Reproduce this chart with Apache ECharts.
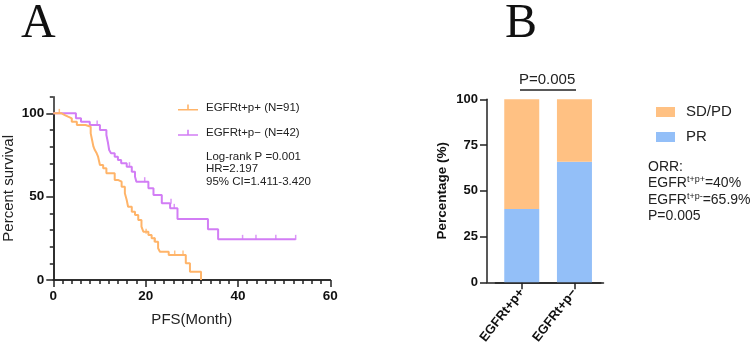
<!DOCTYPE html>
<html>
<head>
<meta charset="utf-8">
<script src="https://cdn.jsdelivr.net/npm/echarts@6/dist/echarts.min.js"></script>
<style>
  html, body { margin: 0; padding: 0; background: #fff; }
  #chart { width: 752px; height: 352px; }
</style>
</head>
<body>
<div id="chart"></div>
<script>
// Panel A: Kaplan-Meier PFS (months, % survival)
const posName = "EGFRt+p+ (N=91)";
const negName = "EGFRt+p− (N=42)";
const posMonths = [0, 1.8, 2.5, 3.2, 4.0, 5.1, 7.0, 8.1, 8.4, 8.7, 9.0, 9.4, 9.7, 10.1, 10.8, 11.5, 13.3, 14.1, 14.8, 15.5, 15.9, 16.2, 17.0, 17.7, 18.4, 19.1, 19.5, 20.6, 21.3, 22.0, 22.7, 23.1, 25.0, 28.7, 29.6, 32.0];
const posSurv = [100, 99, 98, 97, 95, 93, 92, 88, 84, 80, 78, 76, 74, 69, 67, 64, 60, 59, 56, 52, 48, 44, 41, 39, 36, 32, 29, 27, 25, 23, 19, 17, 15, 10, 5, 0];
const posCensorMonths = [1.3, 20.1, 21.9, 26.3, 28.1];
const posCensorSurv = [100, 28, 23, 15, 15];

const negMonths = [0, 4.9, 6.0, 7.9, 10.1, 11.5, 11.8, 12.1, 12.5, 13.3, 14.0, 14.7, 15.9, 17.0, 17.7, 18.0, 20.6, 21.7, 23.5, 25.3, 26.9, 33.5, 35.7, 52.5];
const negSurv = [100, 97, 95, 93, 90, 87, 83, 78, 76, 74, 72, 70, 68, 65, 62, 59, 55, 51, 46, 43, 36.6, 30.5, 24.4, 24.4];
const negCensorMonths = [9.5, 16.5, 19.8, 25.5, 26.2, 41.0, 43.9, 48.2, 52.5];
const negCensorSurv = [93, 68, 59, 46, 43, 24.4, 24.4, 24.4, 24.4];

// Panel B: response rate (%)
const groups = ["EGFRt+p+", "EGFRt+p−"];
const prValues = [40, 65.9];
const sdpdValues = [60, 34.1];

const orange = "#FFB469";
const purple = "#D27DF5";
const barOrange = "#FFC183";
const barBlue = "#93BFF8";
const axisColor = "#222";
const font = "Liberation Sans";

const zip = (a, b) => a.map((v, i) => [v, b[i]]);

const chart = echarts.init(document.getElementById("chart"), null, { renderer: "canvas" });

const axisLine = { show: true, lineStyle: { color: axisColor, width: 1.5 } };
const tickStyle = { color: axisColor, width: 1.5 };
const boldLabel = { color: "#111", fontFamily: font, fontWeight: "bold", fontSize: 13.5 };

chart.setOption({
  animation: false,
  backgroundColor: "#fff",
  textStyle: { fontFamily: font },
  grid: [
    { left: 53.3, top: 96.7, width: 277, height: 183.3 }, // A: curves, 0-110
    { left: 53.3, top: 113.3, width: 277, height: 166.7 }, // A: major y ticks, 0-100
    { left: 487, top: 99.3, width: 116.5, height: 183 }, // B: frame
    { left: 495.4, top: 99.3, width: 105.4, height: 183 }, // B: bars
  ],
  legend: [
    {
      data: [posName, negName],
      orient: "vertical",
      left: 173,
      top: 96.5,
      itemWidth: 20,
      itemHeight: 8,
      itemGap: 13.3,
      icon: "path://M0,6.4h20v1.6h-20z M9.2,2h1.6v5h-1.6z",
      textStyle: { fontFamily: font, fontSize: 11.5, color: "#222", padding: [0, 0, 0, 3] },
    },
    {
      data: ["SD/PD", "PR"],
      orient: "vertical",
      left: 651,
      top: 99.5,
      itemWidth: 19,
      itemHeight: 10,
      itemGap: 10,
      icon: "rect",
      textStyle: { fontFamily: font, fontSize: 15, color: "#222", padding: [0, 0, 0, 6] },
    },
  ],
  xAxis: [
    {
      // month axis, minor ticks every 2
      type: "value",
      gridIndex: 0,
      position: "bottom",
      min: 0,
      max: 60,
      interval: 2,
      name: "PFS(Month)",
      nameLocation: "middle",
      nameGap: 32,
      nameTextStyle: { fontFamily: font, fontSize: 15, color: "#222" },
      axisLine: axisLine,
      axisTick: { show: true, length: 4, lineStyle: tickStyle },
      axisLabel: { show: false },
      splitLine: { show: false },
    },
    {
      // month axis, major ticks and labels
      type: "value",
      gridIndex: 0,
      position: "bottom",
      min: 0,
      max: 60,
      interval: 20,
      axisLine: axisLine,
      axisTick: { show: true, length: 7, lineStyle: tickStyle },
      axisLabel: Object.assign({ margin: 9 }, boldLabel),
      splitLine: { show: false },
    },
    { type: "value", gridIndex: 1, min: 0, max: 60, show: false },
    {
      type: "value",
      gridIndex: 2,
      min: 0,
      max: 1,
      axisLine: axisLine,
      axisTick: { show: false },
      axisLabel: { show: false },
      splitLine: { show: false },
    },
    {
      type: "category",
      gridIndex: 3,
      data: groups,
      axisLine: axisLine,
      axisTick: { show: true, alignWithLabel: true, length: 7, lineStyle: tickStyle },
      axisLabel: Object.assign({}, boldLabel, { fontSize: 13, rotate: 52, margin: 8, interval: 0 }),
      splitLine: { show: false },
    },
  ],
  yAxis: [
    {
      // survival axis, minor ticks every 10
      type: "value",
      gridIndex: 0,
      position: "left",
      min: 0,
      max: 110,
      interval: 10,
      name: "Percent survival",
      nameLocation: "middle",
      nameRotate: 90,
      nameGap: 37,
      nameTextStyle: { fontFamily: font, fontSize: 15, color: "#222" },
      axisLine: axisLine,
      axisTick: { show: true, length: 3.5, lineStyle: tickStyle },
      axisLabel: { show: false },
      splitLine: { show: false },
    },
    {
      // survival axis, major ticks and labels
      type: "value",
      gridIndex: 1,
      position: "left",
      min: 0,
      max: 100,
      interval: 50,
      axisLine: axisLine,
      axisTick: { show: true, length: 7, lineStyle: tickStyle },
      axisLabel: Object.assign({ margin: 9 }, boldLabel),
      splitLine: { show: false },
    },
    {
      type: "value",
      gridIndex: 2,
      min: 0,
      max: 100,
      interval: 25,
      name: "Percentage (%)",
      nameLocation: "middle",
      nameRotate: 90,
      nameGap: 38,
      nameTextStyle: { fontFamily: font, fontSize: 13.5, fontWeight: "bold", color: "#111" },
      axisLine: axisLine,
      axisTick: { show: true, length: 7, lineStyle: tickStyle },
      axisLabel: Object.assign({}, boldLabel, { fontSize: 13, margin: 9 }),
      splitLine: { show: false },
    },
    { type: "value", gridIndex: 3, min: 0, max: 100, show: false },
  ],
  series: [
    {
      name: posName,
      type: "line",
      xAxisIndex: 0,
      yAxisIndex: 0,
      step: "end",
      symbol: "none",
      color: orange,
      lineStyle: { color: orange, width: 2 },
      data: zip(posMonths, posSurv),
      z: 3,
    },
    {
      name: negName,
      type: "line",
      xAxisIndex: 0,
      yAxisIndex: 0,
      step: "end",
      symbol: "none",
      color: purple,
      lineStyle: { color: purple, width: 2 },
      data: zip(negMonths, negSurv),
      z: 2,
    },
    {
      name: "posCensor",
      type: "scatter",
      xAxisIndex: 0,
      yAxisIndex: 0,
      symbol: "rect",
      symbolSize: [1.5, 5],
      symbolOffset: [0, -2],
      itemStyle: { color: orange },
      data: zip(posCensorMonths, posCensorSurv),
    },
    {
      name: "negCensor",
      type: "scatter",
      xAxisIndex: 0,
      yAxisIndex: 0,
      symbol: "rect",
      symbolSize: [1.5, 5],
      symbolOffset: [0, -2],
      itemStyle: { color: purple },
      data: zip(negCensorMonths, negCensorSurv),
    },
    {
      name: "PR",
      type: "bar",
      xAxisIndex: 4,
      yAxisIndex: 3,
      stack: "resp",
      barWidth: 35,
      itemStyle: { color: barBlue },
      data: prValues,
    },
    {
      name: "SD/PD",
      type: "bar",
      xAxisIndex: 4,
      yAxisIndex: 3,
      stack: "resp",
      barWidth: 35,
      itemStyle: { color: barOrange },
      data: sdpdValues,
    },
  ],
  graphic: [
    { type: "text", left: 21, top: 0, style: { text: "A", font: "48px 'Liberation Serif'", fill: "#111" } },
    { type: "text", left: 505, top: 0, style: { text: "B", font: "48px 'Liberation Serif'", fill: "#111" } },
    {
      type: "text",
      left: 206,
      top: 150,
      style: {
        text: "Log-rank P =0.001\nHR=2.197\n95% CI=1.411-3.420",
        font: "11.5px 'Liberation Sans'",
        lineHeight: 12.7,
        fill: "#222",
      },
    },
    { type: "text", left: 519, top: 72, style: { text: "P=0.005", font: "15px 'Liberation Sans'", fill: "#222" } },
    { type: "line", shape: { x1: 520, y1: 90, x2: 576, y2: 90 }, style: { stroke: axisColor, lineWidth: 1.5 } },
    {
      type: "text",
      left: 648,
      top: 160,
      style: {
        text: "{n|ORR:}\n{n|EGFR}{s|t+p+}{n|=40%}\n{n|EGFR}{s|t+p-}{n|=65.9%}\n{n|P=0.005}",
        fill: "#222",
        rich: {
          n: { fontFamily: font, fontSize: 14, lineHeight: 16.5, fill: "#222" },
          s: { fontFamily: font, fontSize: 9, lineHeight: 16.5, verticalAlign: "top", padding: [0, 0, 6, 0], fill: "#222" },
        },
      },
    },
  ],
});
</script>
</body>
</html>
